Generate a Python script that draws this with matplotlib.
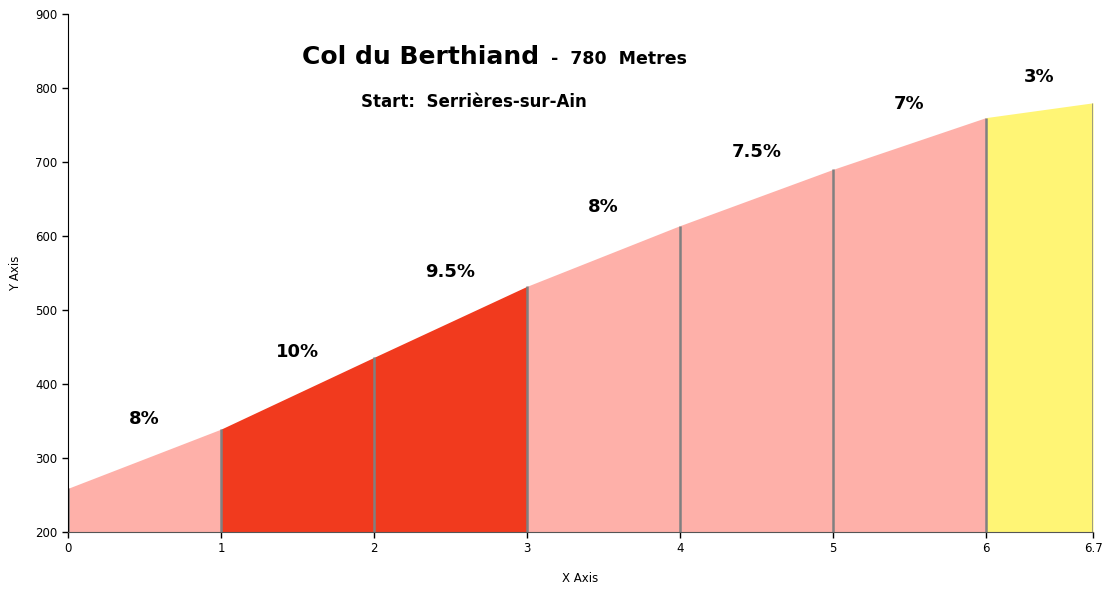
import numpy as np
import matplotlib
matplotlib.use('Agg')
import matplotlib.pyplot as plt

# climb profile: distance (km) vs altitude (m)
km = [0, 1, 2, 3, 4, 5, 6, 6.7]
altitude = [259, 339, 436, 532, 614, 690, 760, 780]
gradients = ['8%', '10%', '9.5%', '8%', '7.5%', '7%', '3%']
label_x = [0.5, 1.5, 2.5, 3.5, 4.5, 5.5, 6.35]
label_y = [353, 443, 551, 639, 713, 778, 815]
tick_labels = ['0', '1', '2', '3', '4', '5', '6', '6.7']

pink = '#FEB0A9'
red = '#F13A1E'
yellow = '#FFF575'
seg_colors = [pink, red, red, pink, pink, pink, yellow]

fig = plt.figure(figsize=(11.09, 5.93), dpi=100)
ax = fig.add_axes([0.0613, 0.1029, 0.9243, 0.8735])

# filled segments, one per km
for i in range(len(km) - 1):
    xs = [km[i], km[i + 1]]
    ys = [altitude[i], altitude[i + 1]]
    ax.fill_between(xs, ys, 200, color=seg_colors[i], linewidth=0, zorder=1)

# grey markers at each km
ax.vlines(km, 200, altitude, colors='#808080', linewidth=1.8, zorder=2)

for x, y, g in zip(label_x, label_y, gradients):
    ax.text(x, y, g, ha='center', va='center', fontsize=13, fontweight='bold')

# title block
ax.text(1.53, 842, 'Col du Berthiand', fontsize=18, fontweight='bold',
        ha='left', va='center')
ax.text(3.16, 839, '-  780  Metres', fontsize=12.5, fontweight='bold',
        ha='left', va='center')
ax.text(2.65, 781, 'Start:  Serrières-sur-Ain', fontsize=12, fontweight='bold',
        ha='center', va='center')

ax.set_xlim(0, 6.7)
ax.set_ylim(200, 900)
ax.set_xticks(km)
ax.set_xticklabels(tick_labels)
ax.set_yticks(np.arange(200, 901, 100))
ax.tick_params(labelsize=8.5, length=4, width=1)
ax.set_xlabel('X Axis', fontsize=8.5)
ax.set_ylabel('Y Axis', fontsize=8.5)
ax.xaxis.set_label_coords(0.5, -0.078)
ax.yaxis.set_label_coords(-0.045, 0.5)

ax.spines['top'].set_visible(False)
ax.spines['right'].set_visible(False)
ax.spines['bottom'].set_color('#555555')

fig.savefig('out.png', dpi=100)
